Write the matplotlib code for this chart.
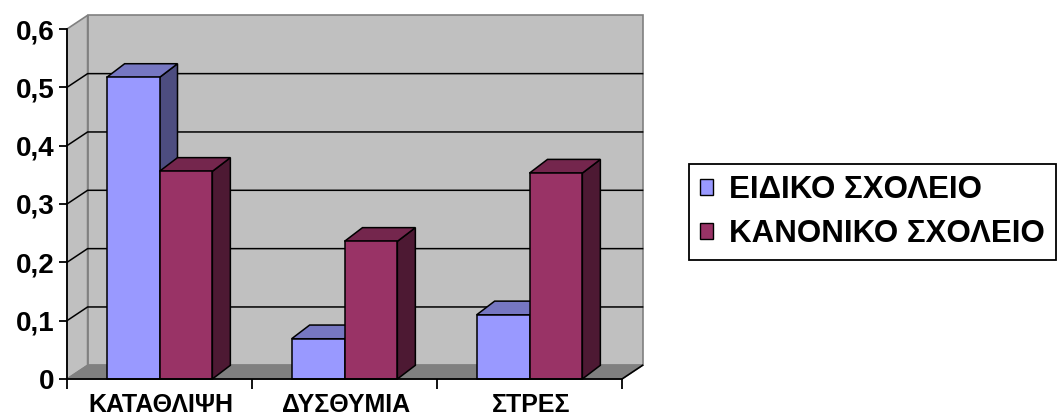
import matplotlib.pyplot as plt
from matplotlib.patches import Polygon, Rectangle, Patch

# Δεδομένα
categories = ['ΚΑΤΑΘΛΙΨΗ', 'ΔΥΣΘΥΜΙΑ', 'ΣΤΡΕΣ']
series_names = ['ΕΙΔΙΚΟ ΣΧΟΛΕΙΟ', 'ΚΑΝΟΝΙΚΟ ΣΧΟΛΕΙΟ']
eidiko = [0.517, 0.069, 0.110]
kanoniko = [0.356, 0.236, 0.353]
yticks = [0, 0.1, 0.2, 0.3, 0.4, 0.5, 0.6]
ytick_labels = ['0', '0,1', '0,2', '0,3', '0,4', '0,5', '0,6']

# χρώματα: (μπροστά, πάνω, πλάι)
colors = [('#9999FF', '#7677C2', '#4D4D80'),
          ('#993366', '#74264D', '#4D1933')]

FONT = 'Liberation Sans'

fig = plt.figure(figsize=(10.58, 4.17), dpi=100)
W, H = 1058, 417
ax = fig.add_axes([67 / W, (H - 379) / H, 555 / W, 350 / H])
ax.set_xlim(0, 3)
ax.set_ylim(0, 0.6)
ax.set_facecolor('none')

# βάθος τοίχων / ράβδων σε μονάδες δεδομένων
px_x = 3 / 555
px_y = 0.6 / 350
dx, dy = 20.6 * px_x, 13.7 * px_y
bdx, bdy = 18 * px_x, 13.7 * px_y

# πίσω τοίχος, πλαϊνός τοίχος, δάπεδο
ax.add_patch(Polygon([(dx, dy), (3 + dx, dy), (3 + dx, 0.6 + dy), (dx, 0.6 + dy)],
                     facecolor='#C0C0C0', edgecolor='#808080', lw=1.2, clip_on=False, zorder=0))
ax.add_patch(Polygon([(0, 0), (dx, dy), (dx, 0.6 + dy), (0, 0.6)],
                     facecolor='#C0C0C0', edgecolor='#808080', lw=1.2, clip_on=False, zorder=0))
ax.add_patch(Polygon([(0, 0), (3, 0), (3 + dx, dy), (dx, dy)],
                     facecolor='#808080', edgecolor='#808080', lw=1, clip_on=False, zorder=1))
ax.plot([3, 3 + dx], [0, dy], color='black', lw=1.2, clip_on=False, zorder=2)

# γραμμές πλέγματος
for v in yticks[1:-1]:
    ax.plot([0, dx, 3 + dx], [v, v + dy, v + dy], color='black', lw=1.1,
            clip_on=False, zorder=1)

# ράβδοι
w = 1 / 3.5
for i in range(len(categories)):
    for j, vals in enumerate([eidiko, kanoniko]):
        v = vals[i]
        x0 = i + 0.75 * w + j * w
        front, top, side = colors[j]
        ax.add_patch(Polygon([(x0 + w, 0), (x0 + w + bdx, bdy), (x0 + w + bdx, v + bdy), (x0 + w, v)],
                             facecolor=side, edgecolor='black', lw=1.1, clip_on=False, zorder=3))
        ax.add_patch(Polygon([(x0, v), (x0 + w, v), (x0 + w + bdx, v + bdy), (x0 + bdx, v + bdy)],
                             facecolor=top, edgecolor='black', lw=1.1, clip_on=False, zorder=3))
        ax.add_patch(Rectangle((x0, 0), w, v, facecolor=front, edgecolor='black',
                               lw=1.1, clip_on=False, zorder=3))

# άξονες
for s in ['top', 'right']:
    ax.spines[s].set_visible(False)
for s in ['left', 'bottom']:
    ax.spines[s].set_linewidth(1.3)
    ax.spines[s].set_zorder(4)
ax.set_yticks(yticks)
ax.set_yticklabels(ytick_labels, family=FONT, fontsize=20, fontweight='bold')
ax.tick_params(axis='y', length=6, width=1.3, pad=3)
ax.set_xticks([0, 1, 2, 3])
ax.set_xticklabels([])
ax.tick_params(axis='x', which='major', length=7, width=1.3)
ax.set_xticks([0.5 + i + 0.01 for i in range(3)], minor=True)
ax.set_xticklabels(categories, minor=True, family=FONT, fontsize=18, fontweight='bold')
ax.tick_params(axis='x', which='minor', length=0, pad=10)

# υπόμνημα
handles = [Patch(facecolor=colors[k][0], edgecolor='black', lw=1) for k in range(2)]
leg = fig.legend(handles, series_names, loc='upper left',
                 bbox_to_anchor=(689 / W, 1 - 164 / H),
                 prop={'family': FONT, 'size': 22.5, 'weight': 'bold'},
                 frameon=True, fancybox=False, edgecolor='black', framealpha=1,
                 handlelength=0.42, handleheight=0.42, handletextpad=0.5,
                 borderpad=0.35, labelspacing=0.45, borderaxespad=0)
leg.get_frame().set_linewidth(1.3)

fig.savefig('out.png', dpi=100)
